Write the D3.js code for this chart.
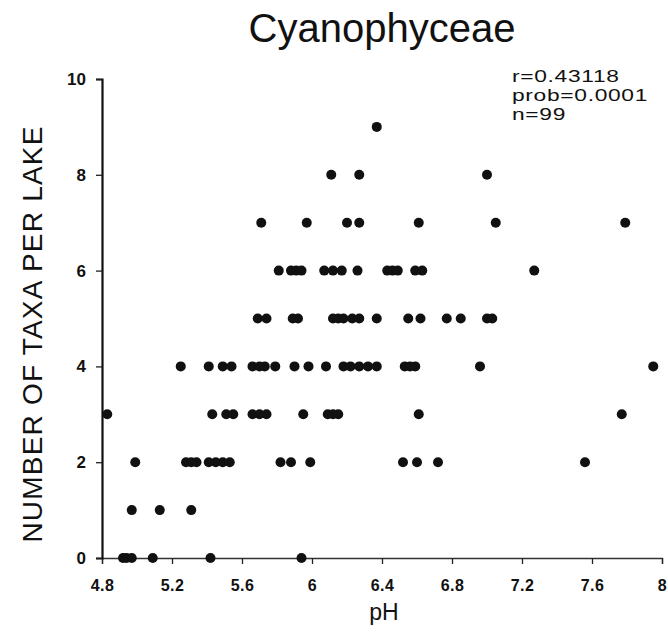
<!DOCTYPE html>
<html>
<head>
<meta charset="utf-8">
<script src="https://cdn.jsdelivr.net/npm/d3@7/dist/d3.min.js"></script>
<style>
  html, body { margin: 0; padding: 0; background: #fff; }
  svg { display: block; font-family: "Liberation Sans", Arial, sans-serif; }
</style>
</head>
<body>
<svg id="chart" width="668" height="632"></svg>
<script>
// Number of Cyanophyceae taxa found in each lake, grouped by taxa count; values are lake pH.
const taxaCounts = [0, 1, 2, 3, 4, 5, 6, 7, 8, 9];
const phByCount = [
  [4.92, 4.94, 4.97, 5.09, 5.42, 5.94],
  [4.97, 5.13, 5.31],
  [4.99, 5.28, 5.31, 5.34, 5.41, 5.45, 5.49, 5.53, 5.82, 5.88, 5.99, 6.52, 6.60, 6.72, 7.56],
  [4.83, 5.43, 5.51, 5.55, 5.66, 5.70, 5.74, 5.95, 6.09, 6.12, 6.15, 6.61, 7.77],
  [5.25, 5.41, 5.49, 5.54, 5.66, 5.70, 5.73, 5.79, 5.90, 5.98, 6.08, 6.18, 6.22, 6.27, 6.32, 6.37, 6.53, 6.56, 6.59, 6.96, 7.95],
  [5.69, 5.74, 5.89, 5.92, 6.12, 6.15, 6.18, 6.23, 6.27, 6.37, 6.55, 6.62, 6.77, 6.85, 7.00, 7.03],
  [5.81, 5.88, 5.91, 5.94, 6.07, 6.12, 6.17, 6.26, 6.43, 6.46, 6.49, 6.59, 6.63, 7.27],
  [5.71, 5.97, 6.20, 6.27, 6.61, 7.05, 7.79],
  [6.11, 6.27, 7.00],
  [6.37]
];
const xTicks = [4.8, 5.2, 5.6, 6, 6.4, 6.8, 7.2, 7.6, 8];
const yTicks = [0, 2, 4, 6, 8, 10];
const statLines = ["r=0.43118", "prob=0.0001", "n=99"];

const points = [];
taxaCounts.forEach((n, i) => phByCount[i].forEach(ph => points.push({ ph, n })));

const svg = d3.select("#chart");
const margin = { left: 102, right: 6, top: 79, bottom: 74 };
const W = 668, H = 632;

const x = d3.scaleLinear().domain([4.8, 8]).range([margin.left, W - margin.right]);
const y = d3.scaleLinear().domain([0, 10]).range([H - margin.bottom, margin.top]);

// x axis
const xAxis = svg.append("g")
  .attr("transform", `translate(0,${y(0)})`)
  .call(d3.axisBottom(x).tickValues(xTicks).tickSize(6).tickPadding(16)
    .tickFormat(d => d3.format("~g")(d)));
xAxis.select(".domain").attr("stroke", "#333").attr("stroke-width", 1.3);
xAxis.selectAll(".tick line").attr("stroke", "#222").attr("stroke-width", 1.3);
xAxis.selectAll(".tick text")
  .attr("font-size", 16).attr("font-weight", "bold").attr("fill", "#111")
  .attr("letter-spacing", 0.5)
  .attr("font-family", "'Liberation Sans', Arial, sans-serif");

// y axis
const yAxis = svg.append("g")
  .attr("transform", `translate(${x(4.8)},0)`)
  .call(d3.axisLeft(y).tickValues(yTicks).tickSize(6).tickSizeOuter(6).tickPadding(10));
yAxis.select(".domain").attr("stroke", "#111").attr("stroke-width", 2.2);
yAxis.selectAll(".tick line").attr("stroke", "#222").attr("stroke-width", 1.3);
yAxis.selectAll(".tick text")
  .attr("font-size", 17).attr("font-weight", "bold").attr("fill", "#111")
  .attr("font-family", "'Liberation Sans', Arial, sans-serif");

// points
svg.append("g").selectAll("circle")
  .data(points)
  .join("circle")
  .attr("cx", d => x(d.ph))
  .attr("cy", d => y(d.n))
  .attr("r", 5)
  .attr("fill", "#111");

// title
svg.append("text")
  .attr("x", 382).attr("y", 42)
  .attr("text-anchor", "middle")
  .attr("font-size", 40)
  .attr("fill", "#111")
  .text("Cyanophyceae");

// axis titles
svg.append("text")
  .attr("x", 384).attr("y", 620)
  .attr("text-anchor", "middle")
  .attr("font-size", 23)
  .attr("fill", "#111")
  .text("pH");

svg.append("text")
  .attr("transform", `translate(42,334) rotate(-90)`)
  .attr("text-anchor", "middle")
  .attr("font-size", 28)
  .attr("letter-spacing", 1.2)
  .attr("fill", "#111")
  .text("NUMBER OF TAXA PER LAKE");

// correlation statistics, set in a wide face
svg.append("g").selectAll("text")
  .data(statLines)
  .join("text")
  .attr("transform", (d, i) => `translate(512,${82 + i * 19}) scale(1.38,1)`)
  .attr("font-size", 16.5)
  .attr("letter-spacing", 0.5)
  .attr("fill", "#111")
  .text(d => d);
</script>
</body>
</html>
